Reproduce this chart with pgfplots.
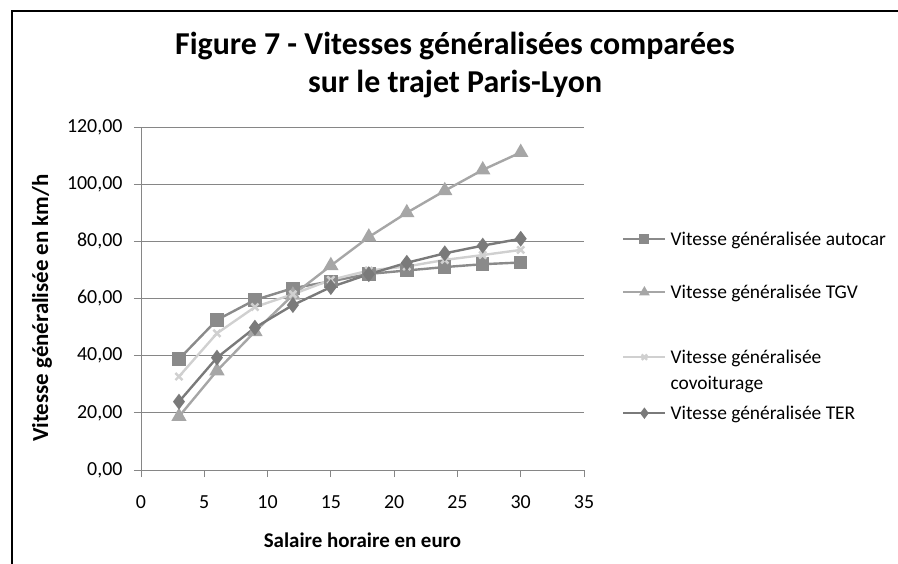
\documentclass[border=0pt]{standalone}
\usepackage{fontspec}
\setmainfont{Carlito}
\usepackage{pgfplots}
\pgfplotsset{compat=1.18}

\definecolor{cauto}{HTML}{8A8A8A}
\definecolor{ctgv}{HTML}{A6A6A6}
\definecolor{ccov}{HTML}{D0D0D0}
\definecolor{cter}{HTML}{7A7A7A}
\definecolor{cgrid}{HTML}{868686}

\begin{document}
\begin{tikzpicture}
\useasboundingbox (0,0) rectangle (898bp,564bp);
\draw[black, line width=1.2bp] (12bp,0) -- (12bp,553bp) -- (898bp,553bp);
\begin{axis}[
  at={(141bp,94bp)}, anchor=south west,
  scale only axis, width=443bp, height=343bp,
  xmin=0, xmax=35, ymin=0, ymax=120,
  xtick={0,5,...,35}, ytick={0,20,...,120},
  axis x line*=bottom, axis y line*=left,
  axis line style={draw=cgrid, line width=0.9bp, -},
  tick align=outside, major tick length=7bp,
  tick style={draw=cgrid, line width=0.9bp},
  ymajorgrids, major grid style={draw=cgrid, line width=0.9bp},
  /pgf/number format/assume math mode=true,
  tick label style={font=\fontsize{20}{23}\selectfont},
  yticklabel style={xshift=-8bp, /pgf/number format/.cd, fixed, fixed zerofill, precision=2, use comma},
  xticklabel style={yshift=-15bp},
  title={Figure 7 - Vitesses généralisées comparées\\sur le trajet Paris-Lyon},
  title style={at={(axis description cs:0.709,1.163)}, anchor=center, align=center,
    font=\bfseries\fontsize{32}{38}\selectfont},
  xlabel={Salaire horaire en euro},
  xlabel style={at={(axis description cs:0.5,-0.204)}, anchor=center,
    font=\bfseries\fontsize{21}{24}\selectfont},
  ylabel={Vitesse généralisée en km/h},
  ylabel style={at={(axis description cs:-0.2235,0.472)}, anchor=center,
    font=\bfseries\fontsize{23}{26}\selectfont},
  legend cell align=left,
  legend style={at={(axis description cs:1.0858,0.7507)}, anchor=north west,
    draw=none, fill=none, inner xsep=0pt, inner ysep=0pt, row sep=0pt, column sep=4bp,
    nodes={inner sep=0pt, text depth=, font=\fontsize{19.5}{26}\selectfont}},
  legend image code/.code={\draw[mark size=3.8bp, mark repeat=2, mark phase=2]
    plot coordinates {(0bp,0bp) (21bp,0bp) (42bp,0bp)};},
  every axis plot/.append style={line width=2.4bp},
]
\addplot[cauto, mark=square*, mark size=5.5bp] coordinates {
  (3,38.8) (6,52.5) (9,59.5) (12,63.6) (15,66.0) (18,68.6) (21,69.8) (24,71.0) (27,72.0) (30,72.6)};
\addlegendentry{\raisebox{0pt}[32.8bp][20.2bp]{Vitesse généralisée autocar}}
\addplot[ctgv, mark=triangle*, mark size=6.5bp] coordinates {
  (3,18.7) (6,34.7) (9,48.4) (12,61.2) (15,71.5) (18,81.5) (21,90.0) (24,97.7) (27,105.0) (30,111.1)};
\addlegendentry{\raisebox{0pt}[32.8bp][20.2bp]{Vitesse généralisée TGV}}
\addplot[ccov, mark=x, mark size=5bp] coordinates {
  (3,32.7) (6,47.8) (9,57.0) (12,61.5) (15,66.5) (18,69.8) (21,71.2) (24,73.5) (27,75.2) (30,77.0)};
\addlegendentry{\raisebox{0pt}[44.8bp][32.2bp]{\begin{tabular}[t]{@{}l@{}}Vitesse généralisée\\covoiturage\end{tabular}}}
\addplot[cter, mark=diamond*, mark size=6bp] coordinates {
  (3,23.9) (6,39.3) (9,49.8) (12,57.7) (15,64.0) (18,68.5) (21,72.5) (24,75.8) (27,78.5) (30,80.9)};
\addlegendentry{\raisebox{0pt}[23.8bp][11.2bp]{Vitesse généralisée TER}}
\end{axis}
\end{tikzpicture}
\end{document}
